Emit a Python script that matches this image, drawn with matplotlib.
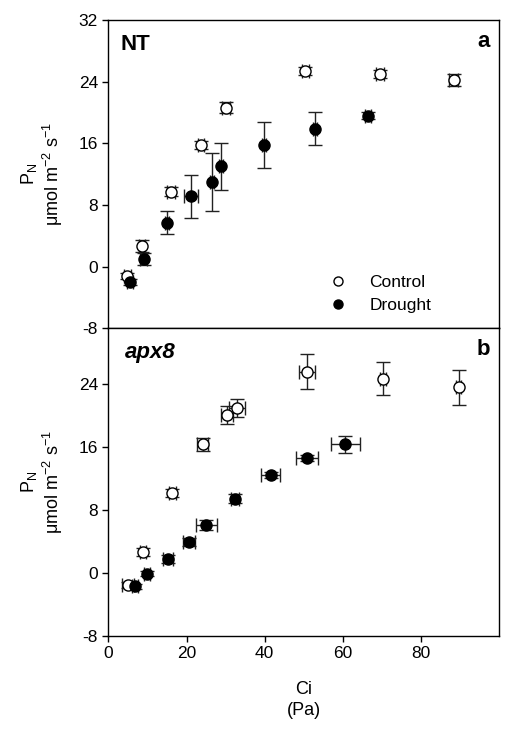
import numpy as np
import matplotlib
matplotlib.use('Agg')
import matplotlib.pyplot as plt

plt.rcParams['font.family'] = ['Liberation Sans', 'DejaVu Sans']
plt.rcParams['mathtext.fontset'] = 'custom'
plt.rcParams['mathtext.rm'] = 'Liberation Sans'
plt.rcParams['mathtext.it'] = 'Liberation Sans:italic'
plt.rcParams['axes.unicode_minus'] = False
plt.rcParams['font.size'] = 12

# NT panel (a)
nt_ctrl_x = [4.9, 8.7, 16.0, 23.7, 30.1, 50.4, 69.4, 88.3]
nt_ctrl_y = [-1.2, 2.7, 9.7, 15.8, 20.6, 25.4, 25.0, 24.2]
nt_ctrl_xerr = [0.8, 0.8, 1.0, 0.8, 1.0, 0.8, 1.0, 1.2]
nt_ctrl_yerr = [0.4, 0.8, 0.6, 0.5, 0.7, 0.5, 0.5, 0.8]

nt_dr_x = [5.6, 9.0, 15.0, 21.2, 26.4, 28.8, 39.7, 52.8, 66.5]
nt_dr_y = [-2.0, 1.0, 5.7, 9.1, 11.0, 13.0, 15.8, 17.9, 19.6]
nt_dr_xerr = [0.8, 0.8, 0.6, 1.8, 0.5, 0.5, 0.5, 0.5, 0.8]
nt_dr_yerr = [0.4, 0.8, 1.5, 2.8, 3.8, 3.1, 3.0, 2.1, 0.4]

# apx8 panel (b)
apx_ctrl_x = [5.0, 8.9, 16.4, 24.1, 30.4, 32.9, 50.8, 70.2, 89.6]
apx_ctrl_y = [-1.5, 2.7, 10.1, 16.3, 20.0, 20.9, 25.5, 24.6, 23.5]
apx_ctrl_xerr = [1.5, 0.8, 0.8, 1.4, 1.5, 2.0, 2.1, 0.8, 0.6]
apx_ctrl_yerr = [0.4, 0.5, 0.5, 0.8, 1.1, 1.1, 2.2, 2.1, 2.2]

apx_dr_x = [6.8, 9.9, 15.3, 20.7, 25.0, 32.5, 41.5, 50.8, 60.6]
apx_dr_y = [-1.7, -0.1, 1.8, 3.9, 6.1, 9.4, 12.4, 14.6, 16.3]
apx_dr_xerr = [0.8, 0.8, 1.3, 1.5, 2.7, 1.0, 2.5, 2.7, 3.7]
apx_dr_yerr = [0.3, 0.3, 0.5, 0.5, 0.6, 0.6, 0.4, 0.4, 1.1]

x_ticks = [0, 20, 40, 60, 80]
top_yticks = [-8, 0, 8, 16, 24, 32]
bot_yticks = [-8, 0, 8, 16, 24]

ylabel = 'P$_\\mathregular{N}$\n\u03bcmol m$^\\mathregular{-2}$ s$^\\mathregular{-1}$'

fig = plt.figure(figsize=(5.22, 7.32), dpi=100)
ax_top = fig.add_axes([0.2075, 0.5515, 0.7491, 0.4212])
ax_bot = fig.add_axes([0.2075, 0.1311, 0.7491, 0.4204])

err_kw = dict(fmt='o', ms=8, mec='black', mew=1, ecolor='#222222',
              elinewidth=1, capsize=5, capthick=1)


def draw_panel(ax, cx, cy, cxe, cye, dx, dy, dxe, dye):
    ax.errorbar(cx, cy, xerr=cxe, yerr=cye, mfc='white', label='Control', **err_kw)
    ax.errorbar(dx, dy, xerr=dxe, yerr=dye, mfc='black', label='Drought', **err_kw)
    ax.set_xlim(0, 100)
    ax.tick_params(direction='out', length=4, width=1, right=False, top=False,
                   labelsize=12.5)
    ax.set_ylabel(ylabel, fontsize=13, labelpad=10, linespacing=1.1)
    for s in ax.spines.values():
        s.set_linewidth(1)


draw_panel(ax_top, nt_ctrl_x, nt_ctrl_y, nt_ctrl_xerr, nt_ctrl_yerr,
           nt_dr_x, nt_dr_y, nt_dr_xerr, nt_dr_yerr)
ax_top.set_ylim(-8, 32)
ax_top.set_yticks(top_yticks)
ax_top.set_xticks([])

draw_panel(ax_bot, apx_ctrl_x, apx_ctrl_y, apx_ctrl_xerr, apx_ctrl_yerr,
           apx_dr_x, apx_dr_y, apx_dr_xerr, apx_dr_yerr)
ax_bot.set_ylim(-8, 31)
ax_bot.set_yticks(bot_yticks)
ax_bot.set_xticks(x_ticks)
ax_bot.set_xlabel('Ci\n(Pa)', fontsize=13, labelpad=14, linespacing=1.3)

# Panel labels
ax_top.text(0.032, 0.92, 'NT', transform=ax_top.transAxes, fontsize=16,
            fontweight='bold', va='center', ha='left')
ax_top.text(0.976, 0.93, 'a', transform=ax_top.transAxes, fontsize=16,
            fontweight='bold', va='center', ha='right')
ax_bot.text(0.042, 0.92, 'apx8', transform=ax_bot.transAxes, fontsize=16,
            fontweight='bold', style='italic', va='center', ha='left')
ax_bot.text(0.976, 0.93, 'b', transform=ax_bot.transAxes, fontsize=16,
            fontweight='bold', va='center', ha='right')

# Legend (markers only, no error bars)
h1, = ax_top.plot([], [], 'o', ms=6.5, mfc='white', mec='black', mew=1)
h2, = ax_top.plot([], [], 'o', ms=6.5, mfc='black', mec='black', mew=1)
ax_top.legend([h1, h2], ['Control', 'Drought'], loc='upper left',
              bbox_to_anchor=(0.525, 0.225), frameon=False, fontsize=12.5,
              handlelength=1.0, handletextpad=1.3, labelspacing=0.45)

fig.savefig('out.png', dpi=100)
